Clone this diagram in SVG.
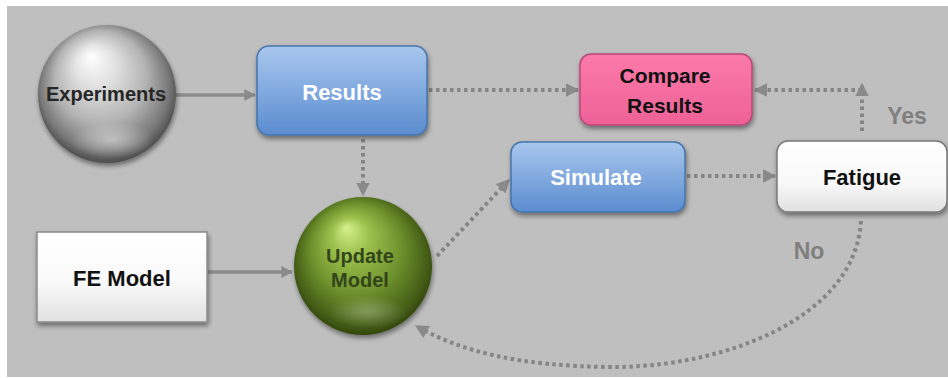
<svg xmlns="http://www.w3.org/2000/svg" width="948" height="378" viewBox="0 0 948 378">
  <defs>
    <style>
      .lbl { font-family: "Liberation Sans", Arial, sans-serif; font-weight: bold; text-anchor: middle; }
      .solid { stroke: #8c8c8c; stroke-width: 3.5; fill: none; }
      .dot { stroke: #858585; stroke-width: 4; stroke-dasharray: 3.5 3.5; fill: none; }
      .note { fill: #7f7f7f; font-size: 23px; }
    </style>
    <filter id="shadow" x="-20%" y="-20%" width="140%" height="150%">
      <feGaussianBlur in="SourceAlpha" stdDeviation="2.5"/>
      <feOffset dx="1" dy="3" result="b"/>
      <feComponentTransfer><feFuncA type="linear" slope="0.45"/></feComponentTransfer>
      <feMerge><feMergeNode/><feMergeNode in="SourceGraphic"/></feMerge>
    </filter>
    <linearGradient id="blue" x1="0" y1="0" x2="0" y2="1">
      <stop offset="0" stop-color="#a9c7ee"/>
      <stop offset="1" stop-color="#5a8ccf"/>
    </linearGradient>
    <linearGradient id="pink" x1="0" y1="0" x2="0" y2="1">
      <stop offset="0" stop-color="#fb7aa9"/>
      <stop offset="1" stop-color="#ee6197"/>
    </linearGradient>
    <linearGradient id="white" x1="0" y1="0" x2="0" y2="1">
      <stop offset="0" stop-color="#ffffff"/>
      <stop offset="0.6" stop-color="#f8f8f8"/>
      <stop offset="1" stop-color="#e0e0e0"/>
    </linearGradient>
    <radialGradient id="silver" cx="0.5" cy="0.48" r="0.55" fx="0.38" fy="0.22">
      <stop offset="0" stop-color="#ffffff"/>
      <stop offset="0.25" stop-color="#e4e4e4"/>
      <stop offset="0.6" stop-color="#b4b4b4"/>
      <stop offset="0.85" stop-color="#787878"/>
      <stop offset="1" stop-color="#3e3e3e"/>
    </radialGradient>
    <radialGradient id="green" cx="0.5" cy="0.48" r="0.55" fx="0.38" fy="0.22">
      <stop offset="0" stop-color="#d6f08e"/>
      <stop offset="0.25" stop-color="#9cc14c"/>
      <stop offset="0.6" stop-color="#6d902c"/>
      <stop offset="0.88" stop-color="#435c16"/>
      <stop offset="1" stop-color="#2c3e08"/>
    </radialGradient>
    <radialGradient id="glow" cx="0.5" cy="0.5" r="0.5">
      <stop offset="0" stop-color="#ffffff" stop-opacity="0.45"/>
      <stop offset="1" stop-color="#ffffff" stop-opacity="0"/>
    </radialGradient>
    <linearGradient id="fadeUp" gradientUnits="userSpaceOnUse" x1="437" y1="256" x2="505" y2="184">
      <stop offset="0" stop-color="#858585" stop-opacity="0.2"/>
      <stop offset="0.6" stop-color="#858585"/>
    </linearGradient>
    <linearGradient id="fadeArc" gradientUnits="userSpaceOnUse" x1="0" y1="220" x2="0" y2="330">
      <stop offset="0" stop-color="#858585" stop-opacity="0.15"/>
      <stop offset="1" stop-color="#858585"/>
    </linearGradient>
    <linearGradient id="fadeYes" gradientUnits="userSpaceOnUse" x1="0" y1="131" x2="0" y2="90">
      <stop offset="0" stop-color="#858585" stop-opacity="0.3"/>
      <stop offset="1" stop-color="#858585"/>
    </linearGradient>
    <marker id="head" viewBox="0 0 10 10" refX="9" refY="5" markerWidth="3.4" markerHeight="3.4" orient="auto" markerUnits="strokeWidth">
      <path d="M0,0 L10,5 L0,10 z" fill="#8a8a8a"/>
    </marker>
  </defs>

  <!-- canvas -->
  <rect x="0" y="0" width="948" height="378" fill="#ffffff"/>
  <rect x="7" y="6" width="941" height="371" fill="#bfbfbf"/>

  <!-- connectors -->
  <g id="connectors">
    <line class="solid" x1="176" y1="95" x2="255" y2="95" marker-end="url(#head)"/>
    <line class="solid" x1="208" y1="272" x2="292" y2="272" marker-end="url(#head)"/>
    <line class="dot" x1="363" y1="139" x2="363" y2="195" marker-end="url(#head)"/>
    <line class="dot" x1="429" y1="90" x2="578" y2="90" marker-end="url(#head)"/>
    <line class="dot" x1="862" y1="90" x2="755" y2="90" marker-end="url(#head)"/>
    <line class="dot" x1="862" y1="131" x2="862" y2="84" stroke="url(#fadeYes)" marker-end="url(#head)"/>
    <line class="dot" x1="687" y1="176" x2="775" y2="176" marker-end="url(#head)"/>
    <line class="dot" x1="437" y1="256" x2="509" y2="180" stroke="url(#fadeUp)" marker-end="url(#head)"/>
    <path class="dot" d="M861,221 C855,320 720,368 610,367 C520,366 462,352 416,326" stroke="url(#fadeArc)" marker-end="url(#head)"/>
  </g>

  <!-- nodes -->
  <g id="experiments">
    <circle cx="107" cy="94" r="69" fill="url(#silver)" filter="url(#shadow)"/>
    <ellipse cx="112" cy="140" rx="42" ry="18" fill="url(#glow)"/>
    <text class="lbl" x="106" y="101" font-size="20" fill="#262626">Experiments</text>
  </g>

  <g id="results">
    <rect x="257" y="46" width="170" height="89" rx="12" fill="url(#blue)" stroke="#4474ad" stroke-width="1.5" filter="url(#shadow)"/>
    <text class="lbl" x="342" y="100" font-size="22" fill="#ffffff">Results</text>
  </g>

  <g id="compare-results">
    <rect x="580" y="54" width="172" height="71" rx="11" fill="url(#pink)" stroke="#b9477a" stroke-width="1.5" filter="url(#shadow)"/>
    <text class="lbl" x="665" y="83" font-size="21" fill="#111111">Compare</text>
    <text class="lbl" x="665" y="113" font-size="21" fill="#111111">Results</text>
  </g>

  <g id="simulate">
    <rect x="511" y="142" width="174" height="70" rx="11" fill="url(#blue)" stroke="#4474ad" stroke-width="1.5" filter="url(#shadow)"/>
    <text class="lbl" x="596" y="185" font-size="22" fill="#ffffff">Simulate</text>
  </g>

  <g id="fatigue">
    <rect x="777" y="141" width="170" height="71" rx="11" fill="url(#white)" stroke="#7a7a7a" stroke-width="1.5" filter="url(#shadow)"/>
    <text class="lbl" x="862" y="185" font-size="22" fill="#111111">Fatigue</text>
  </g>

  <g id="fe-model">
    <rect x="37" y="232" width="170" height="90" fill="url(#white)" stroke="#8a8a8a" stroke-width="1.5" filter="url(#shadow)"/>
    <text class="lbl" x="122" y="286" font-size="22" fill="#111111">FE Model</text>
  </g>

  <g id="update-model">
    <circle cx="363" cy="266" r="69" fill="url(#green)" filter="url(#shadow)"/>
    <ellipse cx="368" cy="312" rx="40" ry="16" fill="url(#glow)" opacity="0.6"/>
    <text class="lbl" x="360" y="263" font-size="20" fill="#33451a">Update</text>
    <text class="lbl" x="360" y="287" font-size="20" fill="#33451a">Model</text>
  </g>

  <!-- branch labels -->
  <text class="lbl note" x="907" y="124">Yes</text>
  <text class="lbl note" x="809" y="259">No</text>
</svg>
